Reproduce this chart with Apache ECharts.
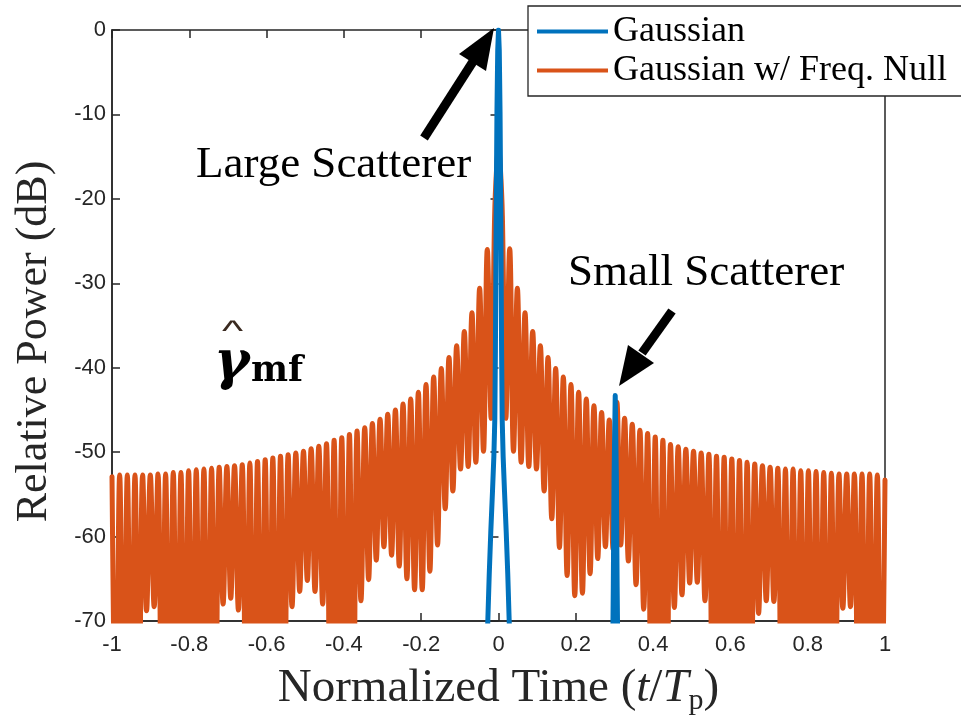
<!DOCTYPE html>
<html>
<head>
<meta charset="utf-8">
<script src="https://cdn.jsdelivr.net/npm/echarts@6/dist/echarts.min.js"></script>
<style>
html, body { margin: 0; padding: 0; background: #fff; }
#chart { width: 961px; height: 721px; }
</style>
</head>
<body>
<div id="chart"></div>
<script>
// lobe grid of the freq-null response (normalized time)
var LOBE = 0.019816;
var FIRST_NULL = 0.019;
var FIRST_PEAK = 0.029;
var C = -85; // nulls that drop below the -70 dB floor

// sidelobe peaks, left side, from t=-1 towards the centre
var leftPeakDb = [-52.9, -52.7, -52.7, -52.7, -52.7, -52.7, -52.6, -52.6, -52.4, -52.4,
    -52.2, -52.1, -52.0, -51.9, -51.8, -51.7, -51.6, -51.5, -51.3, -51.1,
    -50.9, -50.7, -50.5, -50.3, -50.1, -49.9, -49.6, -49.3, -49.0, -48.6,
    -48.3, -47.9, -47.5, -47.1, -46.6, -46.1, -45.5, -45.0, -44.3, -43.7,
    -42.9, -42.0, -41.1, -40.1, -38.8, -37.4, -35.7, -33.5, -30.6, -26.0];
// nulls, left side, outer to inner
var leftNullDb = [C, C, C, C, -68.8, -68.3, C, C, C, C,
    C, C, C, C, -68.0, -67.3, -68.7, C, C, C,
    C, C, C, -68.3, -66.5, -65.2, -66.5, -68.0, C, C,
    C, C, -67.6, -65.1, -62.8, -61.2, -62.2, -63.5, -65.0, -66.3,
    -66.3, -64.1, -61.0, -56.7, -54.6, -52.0, -51.7, -51.2, -49.9, -46.0];
// main lobe
var mainLobeT = [-0.01, -0.005, 0, 0.005, 0.01];
var mainLobeDb = [-22, -16.5, -14, -16.5, -22];
// nulls, right side, inner to outer
var rightNullDb = [-46.0, -49.9, -51.2, -51.7, -52.0, -54.6, -57.9, -61.3, -64.6, -67.0,
    -66.7, -64.4, -62.6, -61.2, -61.5, -61.0, -62.9, -65.7, -68.6, C,
    C, C, -68.4, -66.9, -65.5, -65.4, -67.6, C, C, C,
    C, C, C, -69.1, -67.6, -67.7, C, C, C, C,
    C, C, C, C, -68.5, -68.3, C, C, C, C];
// sidelobe peaks, right side, inner to outer
var rightPeakDb = [-25.9, -30.6, -33.5, -35.7, -37.4, -38.8, -40.1, -41.1, -42.0, -42.9,
    -43.7, -44.5, -45.3, -46.2, -44.1, -46.0, -46.7, -47.4, -47.8, -48.2,
    -48.6, -49.1, -49.35, -49.65, -49.9, -50.1, -50.25, -50.5, -50.6, -50.8,
    -51.0, -51.2, -51.4, -51.6, -51.8, -51.9, -52.0, -52.0, -52.2, -52.2,
    -52.3, -52.4, -52.5, -52.6, -52.6, -52.6, -52.6, -52.6, -52.7, -53.3];

// plain gaussian: large scatterer at 0, small one near 0.3
var bigT = [-0.032, -0.028, -0.024, -0.02, -0.0155, -0.012, -0.0095, -0.008, -0.006, -0.004, -0.002, 0,
    0.002, 0.004, 0.006, 0.008, 0.0095, 0.012, 0.0155, 0.02, 0.024, 0.028, 0.032];
var bigDb = [-76, -70.5, -64.5, -59.5, -54.6, -50.5, -46, -38, -22, -9.7, -2.4, 0,
    -2.4, -9.7, -22, -38, -46, -50.5, -54.6, -59.5, -64.5, -70.5, -76];
var smallT = [0.294, 0.297, 0.299, 0.302, 0.305, 0.307, 0.310];
var smallDb = [-80, -66, -53, -43.3, -53, -66, -80];

var xMin = -1, xMax = 1, xStep = 0.2;
var yMin = -70, yMax = 0, yStep = 10;

function nullSeriesData() {
    var pts = [];
    for (var i = 0; i < 50; i++) {
        var m = 49 - i;
        pts.push([-(FIRST_PEAK + LOBE * m), leftPeakDb[i]]);
        pts.push([-(FIRST_NULL + LOBE * m), leftNullDb[i]]);
    }
    mainLobeT.forEach(function(t, i) {
        pts.push([t, mainLobeDb[i]]);
    });
    for (var k = 0; k < 50; k++) {
        pts.push([FIRST_NULL + LOBE * k, rightNullDb[k]]);
        pts.push([FIRST_PEAK + LOBE * k, rightPeakDb[k]]);
    }
    return pts;
}

function gaussSeriesData() {
    var pts = bigT.map(function(t, i) { return [t, bigDb[i]]; });
    // dip far under the floor between the two scatterers (clipped away)
    pts.push([0.06, -200]);
    pts.push([0.26, -200]);
    smallT.forEach(function(t, i) { pts.push([t, smallDb[i]]); });
    return pts;
}

var axisColor = '#262626';
var tickFont = 'Liberation Sans';
var texFont = 'Liberation Serif';

function fmtTick(v) {
    return String(parseFloat(v.toFixed(1)));
}

var chart = echarts.init(document.getElementById('chart'), null, { renderer: 'canvas' });

var option = {
    animation: false,
    backgroundColor: '#fff',
    grid: {
        left: 112, right: 76, top: 30, bottom: 94,
        show: true,
        borderColor: axisColor,
        borderWidth: 1.5,
        backgroundColor: 'transparent'
    },
    legend: {
        data: ['Gaussian', 'Gaussian w/ Freq. Null'],
        orient: 'vertical',
        left: 528,
        top: 6,
        padding: [7, 20, 7, 9],
        icon: 'rect',
        itemWidth: 71,
        itemHeight: 4,
        itemGap: 2,
        backgroundColor: '#fff',
        borderColor: axisColor,
        borderWidth: 1.3,
        borderRadius: 0,
        textStyle: {
            fontFamily: texFont,
            fontSize: 36,
            lineHeight: 37,
            color: '#000'
        }
    },
    xAxis: [{
        type: 'value',
        min: xMin, max: xMax, interval: xStep,
        name: 'Normalized Time ({it|t}/{it|T}{sub|p})',
        nameLocation: 'middle',
        nameGap: 41,
        nameTextStyle: {
            fontFamily: texFont,
            fontSize: 47,
            color: axisColor,
            rich: {
                it: { fontFamily: texFont, fontSize: 47, fontStyle: 'italic', color: axisColor },
                sub: { fontFamily: texFont, fontSize: 30, color: axisColor, padding: [24, 0, 0, 0] }
            }
        },
        axisLine: { onZero: false, lineStyle: { color: axisColor, width: 1.5 } },
        axisTick: { inside: true, length: 8, lineStyle: { color: axisColor, width: 1.5 } },
        axisLabel: {
            margin: 13,
            fontFamily: tickFont,
            fontSize: 22,
            color: axisColor,
            formatter: fmtTick
        },
        splitLine: { show: false }
    }, {
        type: 'value',
        position: 'top',
        min: xMin, max: xMax, interval: xStep,
        axisLine: { show: false },
        axisTick: { inside: true, length: 8, lineStyle: { color: axisColor, width: 1.5 } },
        axisLabel: { show: false },
        splitLine: { show: false }
    }],
    yAxis: [{
        type: 'value',
        min: yMin, max: yMax, interval: yStep,
        name: 'Relative Power (dB)',
        nameLocation: 'middle',
        nameGap: 56,
        nameTextStyle: {
            fontFamily: texFont,
            fontSize: 44,
            color: axisColor,
            padding: [0, 32, 0, 0]
        },
        axisLine: { onZero: false, lineStyle: { color: axisColor, width: 1.5 } },
        axisTick: { inside: true, length: 8, lineStyle: { color: axisColor, width: 1.5 } },
        axisLabel: {
            margin: 6,
            fontFamily: tickFont,
            fontSize: 22,
            color: axisColor,
            padding: [6, 0, 0, 0]
        },
        splitLine: { show: false }
    }, {
        type: 'value',
        position: 'right',
        min: yMin, max: yMax, interval: yStep,
        axisLine: { show: false },
        axisTick: { inside: true, length: 8, lineStyle: { color: axisColor, width: 1.5 } },
        axisLabel: { show: false },
        splitLine: { show: false }
    }],
    series: [{
        name: 'Gaussian w/ Freq. Null',
        type: 'line',
        symbol: 'none',
        smooth: 0.4,
        clip: true,
        z: 2,
        lineStyle: { color: '#D95319', width: 5, join: 'round', cap: 'round' },
        itemStyle: { color: '#D95319' },
        data: nullSeriesData()
    }, {
        name: 'Gaussian',
        type: 'line',
        symbol: 'none',
        clip: true,
        z: 3,
        lineStyle: { color: '#0072BD', width: 5, join: 'round', cap: 'round' },
        itemStyle: { color: '#0072BD' },
        data: gaussSeriesData()
    }],
    graphic: [
        // arrow to the large scatterer
        { type: 'line', shape: { x1: 424, y1: 138, x2: 474, y2: 60 }, style: { stroke: '#000', lineWidth: 9 }, z: 10 },
        { type: 'polygon', shape: { points: [[494, 28], [486, 71], [459, 54]] }, style: { fill: '#000' }, z: 10 },
        { type: 'text', left: 196, top: 143, style: { text: 'Large Scatterer', font: '45px Liberation Serif', fill: '#000' }, z: 10 },
        // arrow to the small scatterer
        { type: 'line', shape: { x1: 672, y1: 311, x2: 642, y2: 353 }, style: { stroke: '#000', lineWidth: 9 }, z: 10 },
        { type: 'polygon', shape: { points: [[619, 386], [654, 363], [628, 345]] }, style: { fill: '#000' }, z: 10 },
        { type: 'text', left: 568, top: 251, style: { text: 'Small Scatterer', font: '45px Liberation Serif', fill: '#000' }, z: 10 },
        // estimator symbol
        { type: 'text', left: 214, top: 338, style: { text: 'γ', font: 'bold italic 54px DejaVu Serif', fill: '#000' }, z: 10 },
        { type: 'text', left: 222, top: 318, scaleX: 1.5, style: { text: '^', font: '30px Liberation Sans', fill: '#3a2a20' }, z: 10 },
        { type: 'text', left: 251, top: 354, style: { text: 'mf', font: 'bold 35px DejaVu Serif', fill: '#000' }, z: 10 }
    ]
};

chart.setOption(option);
window.onresize = chart.resize;
</script>
</body>
</html>
